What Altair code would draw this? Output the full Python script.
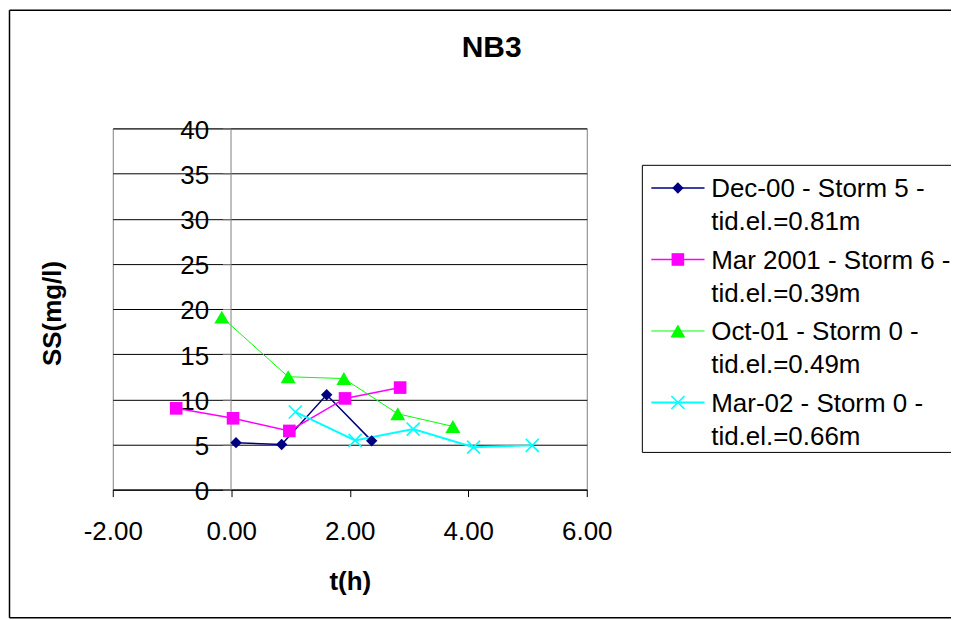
import altair as alt
import pandas as pd

# ---------------- data ----------------
chart_title = "NB3"
series_labels = [
    "Dec-00 - Storm 5 -\ntid.el.=0.81m",
    "Mar 2001 - Storm 6 -\ntid.el.=0.39m",
    "Oct-01 - Storm 0 -\ntid.el.=0.49m",
    "Mar-02 - Storm 0 -\ntid.el.=0.66m",
]
dec00_t = [0.08, 0.85, 1.61, 2.37]
dec00_ss = [5.2, 5.0, 10.5, 5.4]
mar01_t = [-0.93, 0.03, 0.98, 1.92, 2.85]
mar01_ss = [9.0, 7.9, 6.5, 10.1, 11.3]
oct01_t = [-0.16, 0.96, 1.90, 2.81, 3.74]
oct01_ss = [19.1, 12.5, 12.3, 8.4, 7.0]
mar02_t = [1.08, 2.09, 3.07, 4.09, 5.08]
mar02_ss = [8.6, 5.45, 6.7, 4.7, 4.9]
x_ticks = [-2, 0, 2, 4, 6]
y_ticks = [0, 5, 10, 15, 20, 25, 30, 35, 40]

series_t = [dec00_t, mar01_t, oct01_t, mar02_t]
series_ss = [dec00_ss, mar01_ss, oct01_ss, mar02_ss]

# ---------------- styles ----------------
colors = ["#000080", "#FF00FF", "#00FF00", "#00FFFF"]
shapes = ["diamond", "square", "triangle-up", "M-1,-1L1,1M-1,1L1,-1"]
sizes = [130, 160, 225, 170]
filled = [True, True, True, False]
line_widths = [1.5, 1.5, 1.0, 2.0]

FONT = "Liberation Sans"
W, H = 475, 362

xaxis = alt.Axis(
    values=x_ticks, title="t(h)", grid=False,
    labelExpr="(datum.value < 0 ? '-' : '') + format(abs(datum.value), '.2f')",
    labelFontSize=26, labelColor="black", labelFlush=False, labelOverlap=False,
    tickSize=7, tickColor="black", domainColor="black", labelPadding=22,
    titleFontSize=26, titleFontWeight="bold", titleColor="black",
    titleBaseline="middle", titleY=92,
)
yaxis = alt.Axis(
    values=y_ticks, title="SS(mg/l)", grid=True, gridColor="black", gridWidth=1,
    offset=-118, labelFontSize=26, labelColor="black", labelFlush=False,
    labelOverlap=False, labelOffset=2,
    tickSize=8, tickColor="#808080", domainColor="#808080", labelPadding=14,
    titleFontSize=26, titleFontWeight="bold", titleColor="black",
    titleAngle=270, titleBaseline="middle", titleAlign="center",
    titleX=-178, titleY=185,
)
xs = alt.Scale(domain=[-2, 6], nice=False, zero=False)
ys = alt.Scale(domain=[0, 40], nice=False)

# ---------------- decoration: outer chart border + title ----------------
RIGHT = 840
border = [
    alt.Chart().mark_rule(color="black", strokeWidth=1.5).encode(
        x=alt.value(-103.5), y=alt.value(-118.5), y2=alt.value(490.5)),
    alt.Chart().mark_rule(color="black", strokeWidth=1.5).encode(
        x=alt.value(-103.5), x2=alt.value(RIGHT), y=alt.value(-118.5)),
    alt.Chart().mark_rule(color="black", strokeWidth=1.5).encode(
        x=alt.value(-103.5), x2=alt.value(RIGHT), y=alt.value(490.5)),
    alt.Chart().mark_text(fontSize=30, fontWeight="bold", font=FONT, color="black",
                          align="center", baseline="alphabetic").encode(
        x=alt.value(379.7), y=alt.value(-72), text=alt.value(chart_title)),
]

# ---------------- plot layers ----------------
line_layers, point_layers = [], []
for i in range(4):
    df = pd.DataFrame({"t": series_t[i], "ss": series_ss[i]})
    base = alt.Chart(df).encode(
        x=alt.X("t:Q", scale=xs, axis=xaxis),
        y=alt.Y("ss:Q", scale=ys, axis=yaxis),
    )
    line_layers.append(base.mark_line(color=colors[i], strokeWidth=line_widths[i]))
    if filled[i]:
        pm = base.mark_point(shape=shapes[i], filled=True, color=colors[i],
                             size=sizes[i], opacity=1)
    else:
        pm = base.mark_point(shape=shapes[i], filled=False, color=colors[i],
                             size=sizes[i], strokeWidth=1.6, opacity=1)
    point_layers.append(pm)

plot = alt.layer(*border, *line_layers, *point_layers)

# ---------------- legend (custom, Excel style) ----------------
lscale = alt.Scale(domain=[0, 3], range=[59.7, 274.7])
legend_box = [
    alt.Chart().mark_rule(color="black", strokeWidth=1).encode(
        x=alt.value(530.7), x2=alt.value(RIGHT), y=alt.value(37)),
    alt.Chart().mark_rule(color="black", strokeWidth=1).encode(
        x=alt.value(530.7), x2=alt.value(RIGHT), y=alt.value(324.7)),
    alt.Chart().mark_rule(color="black", strokeWidth=1).encode(
        x=alt.value(530.7), y=alt.value(37), y2=alt.value(324.7)),
]
legend_layers = []
for i in range(4):
    ldf = pd.DataFrame({"row": [i], "label": [series_labels[i]]})
    lb = alt.Chart(ldf).encode(y=alt.Y("row:Q", scale=lscale, axis=None))
    legend_layers.append(lb.mark_rule(color=colors[i], strokeWidth=line_widths[i]).encode(
        x=alt.value(539.7), x2=alt.value(593)))
    if filled[i]:
        legend_layers.append(lb.mark_point(shape=shapes[i], filled=True, color=colors[i],
                                           size=sizes[i], opacity=1).encode(x=alt.value(566.3)))
    else:
        legend_layers.append(lb.mark_point(shape=shapes[i], filled=False, color=colors[i],
                                           size=sizes[i], strokeWidth=1.6, opacity=1).encode(x=alt.value(566.3)))
    legend_layers.append(lb.mark_text(
        align="left", baseline="alphabetic", dy=9.3, lineBreak="\n", lineHeight=33,
        fontSize=26, font=FONT, color="black").encode(
        x=alt.value(599.7), text="label:N"))

legend = alt.layer(*legend_box, *legend_layers)

chart = alt.layer(plot, legend).resolve_scale(y="independent").properties(
    width=W, height=H,
    autosize=alt.AutoSizeParams(type="pad"),
    padding=0,
).configure(
    font=FONT,
    background="white",
).configure_view(
    stroke="#808080", strokeWidth=1,
).configure_axis(
    labelFont=FONT, titleFont=FONT,
)

chart.save("out.html", embed_options={"renderer": "svg", "actions": False})
